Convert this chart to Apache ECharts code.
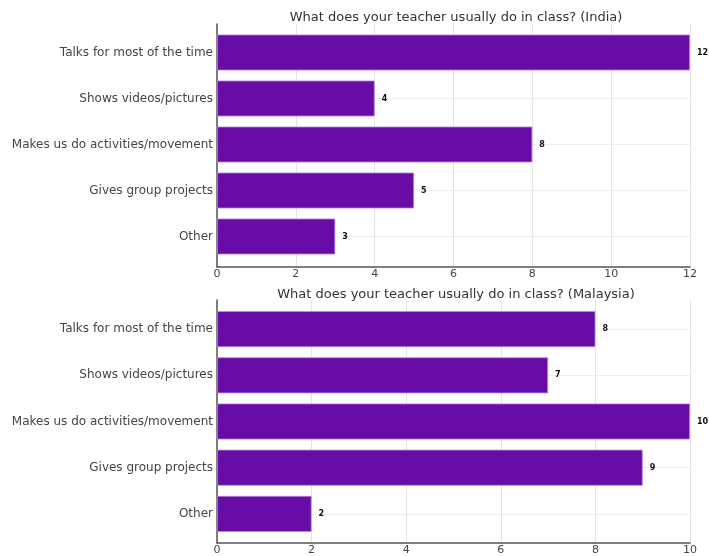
<!DOCTYPE html>
<html>
<head>
<meta charset="utf-8">
<script src="https://cdn.jsdelivr.net/npm/echarts@6/dist/echarts.min.js"></script>
<style>
  html, body { margin: 0; padding: 0; background: #fff; }
  #chart { width: 709px; height: 556px; }
</style>
</head>
<body>
<div id="chart"></div>
<script>
const categories = [
  'Talks for most of the time',
  'Shows videos/pictures',
  'Makes us do activities/movement',
  'Gives group projects',
  'Other'
];
const indiaValues = [12, 4, 8, 5, 3];
const malaysiaValues = [8, 7, 10, 9, 2];
const titles = [
  'What does your teacher usually do in class? (India)',
  'What does your teacher usually do in class? (Malaysia)'
];

const barColor = '#680ca8';
const myChart = echarts.init(document.getElementById('chart'));

// each panel = a "frame" grid (axes, ticks, vertical grid) + a slightly inset "bar" grid
function frameX(idx, max) {
  return {
    type: 'value', gridIndex: idx, min: 0, max: max, interval: 2,
    axisLine: { show: true, lineStyle: { color: '#555', width: 1.5 } },
    axisTick: { show: false },
    axisLabel: { color: '#444', fontSize: 11, margin: 2, fontFamily: 'DejaVu Sans' },
    splitLine: { show: true, lineStyle: { color: '#e4e4e4', width: 1 } }
  };
}
function frameY(idx) {
  return {
    type: 'value', gridIndex: idx, min: 0, max: 1,
    axisLine: { show: true, lineStyle: { color: '#555', width: 1.5 } },
    axisTick: { show: false }, axisLabel: { show: false }, splitLine: { show: false }
  };
}
function barX(idx, max) {
  return {
    type: 'value', gridIndex: idx, min: 0, max: max, show: false,
    splitLine: { show: false }
  };
}
function barY(idx) {
  return {
    type: 'category', gridIndex: idx, data: categories, inverse: true,
    axisLine: { show: false }, axisTick: { show: false },
    axisLabel: { color: '#444', fontSize: 12, margin: 4, fontFamily: 'DejaVu Sans' },
    splitLine: { show: false }
  };
}
function barSeries(idx, data) {
  return {
    type: 'bar', xAxisIndex: idx, yAxisIndex: idx, data: data,
    barCategoryGap: '22%',
    itemStyle: { color: barColor, borderColor: '#b98ae0', borderWidth: 0.8 },
    label: {
      show: true, position: 'right', distance: 7,
      color: '#111', fontSize: 8, fontWeight: 'bold', fontFamily: 'DejaVu Sans'
    },
    z: 3
  };
}
function dottedRows(idx) {
  return {
    type: 'line', xAxisIndex: idx, yAxisIndex: idx, data: [], silent: true, z: 1,
    markLine: {
      silent: true, symbol: 'none', label: { show: false }, z: 1,
      lineStyle: { color: '#e0e0e0', type: 'dotted', width: 1 },
      data: categories.map(c => ({ yAxis: c }))
    }
  };
}
function frameSeries(idx) {
  return { type: 'line', xAxisIndex: idx, yAxisIndex: idx, data: [], silent: true };
}

const titleStyle = { color: '#333', fontSize: 13, fontWeight: 'normal', fontFamily: 'DejaVu Sans' };

const option = {
  animation: false,
  backgroundColor: '#fff',
  title: [
    { text: titles[0], left: 451, top: 6, textAlign: 'center', textStyle: titleStyle },
    { text: titles[1], left: 451, top: 283, textAlign: 'center', textStyle: titleStyle }
  ],
  grid: [
    { left: 217, right: 19, top: 24, height: 243 },
    { left: 217, right: 19, top: 29.5, height: 230 },
    { left: 217, right: 19, top: 300, height: 243 },
    { left: 217, right: 19, top: 306, height: 231 }
  ],
  xAxis: [frameX(0, 12), barX(1, 12), frameX(2, 10), barX(3, 10)],
  yAxis: [frameY(0), barY(1), frameY(2), barY(3)],
  series: [
    frameSeries(0), dottedRows(1), barSeries(1, indiaValues),
    frameSeries(2), dottedRows(3), barSeries(3, malaysiaValues)
  ]
};
myChart.setOption(option);
</script>
</body>
</html>
